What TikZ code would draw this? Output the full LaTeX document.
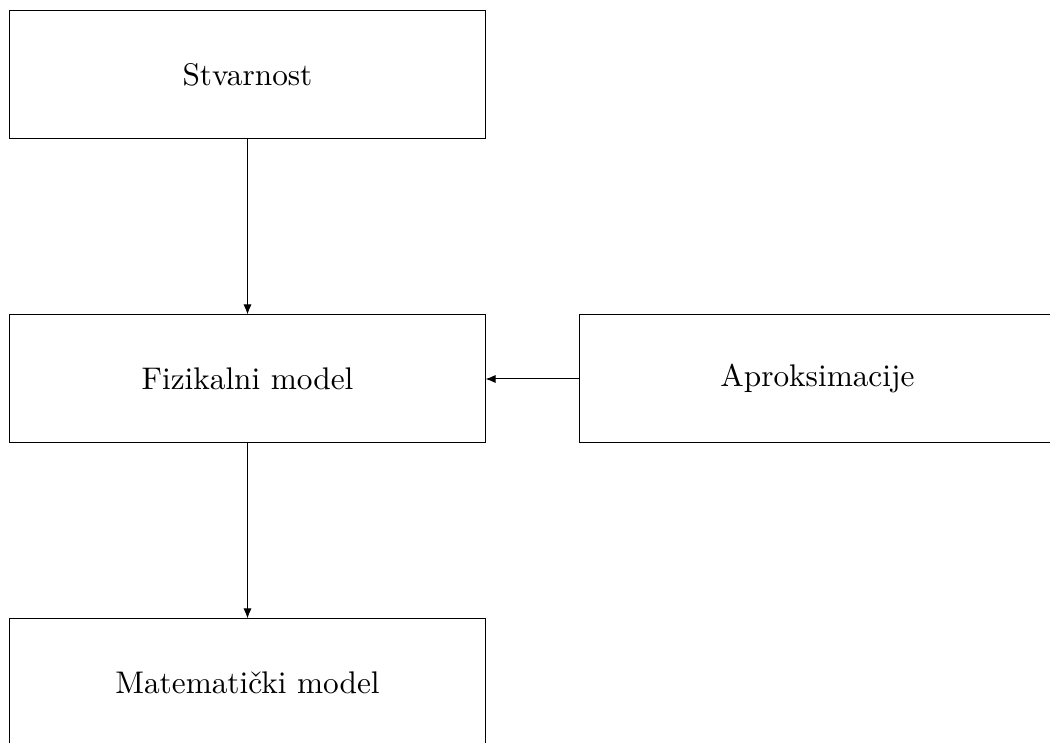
\documentclass[tikz,border=0pt]{standalone}
\usetikzlibrary{arrows.meta}
\begin{document}
\begin{tikzpicture}[x=0.3195pt,y=-0.3195pt,line width=0.32pt,
  box/.style={draw,rectangle,minimum width=151.8pt,minimum height=40.9pt,inner sep=0pt},
  link/.style={-{Latex[length=3.2pt,width=2.6pt]}}]
\clip (0,0) rectangle (1050,743);
\useasboundingbox (0,0) rectangle (1050,743);
\node[box] (s) at (247.5,75) {Stvarnost};
\node[box] (f) at (247.5,379) {Fizikalni model};
\node[box] (m) at (247.5,683) {Matematički model};
\node[box] (a) at (817.5,379) {Aproksimacije};
\draw[link] (s) -- (f);
\draw[link] (f) -- (m);
\draw[link] (a) -- (f);
\end{tikzpicture}
\end{document}
